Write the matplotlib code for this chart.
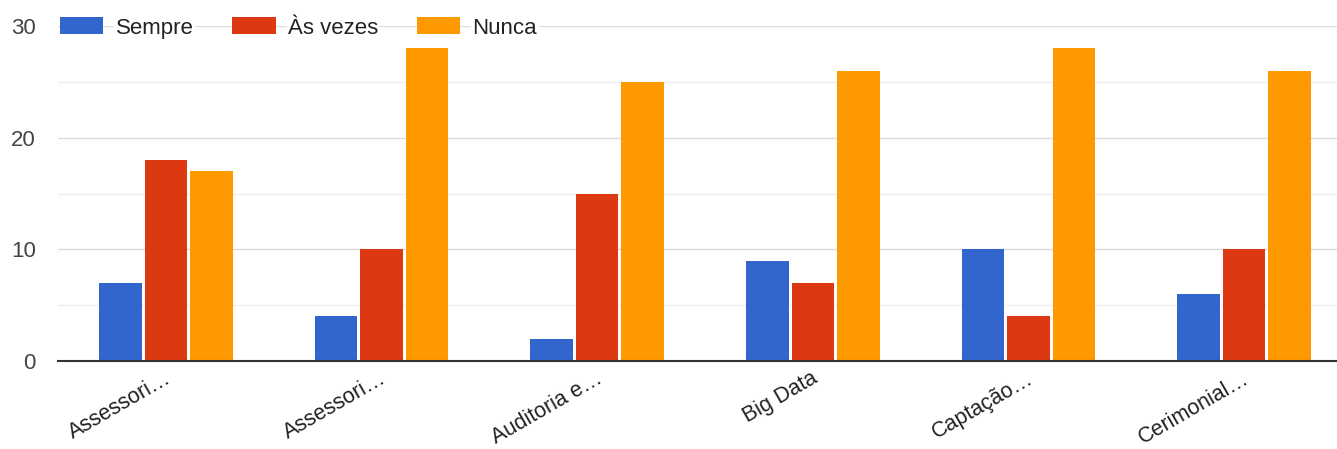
import matplotlib
matplotlib.use("Agg")
import matplotlib.pyplot as plt
import numpy as np

categories = ["Assessori…", "Assessori…", "Auditoria e…", "Big Data", "Captação…", "Cerimonial…"]
series_names = ["Sempre", "Às vezes", "Nunca"]
sempre = [7, 4, 2, 9, 10, 6]
as_vezes = [18, 10, 15, 7, 4, 10]
nunca = [17, 28, 25, 26, 28, 26]
colors = ["#3366cc", "#dc3912", "#ff9900"]

plt.rcParams['font.family'] = ['Liberation Sans', 'DejaVu Sans']

fig = plt.figure(figsize=(13.37, 4.49), dpi=100)
ax = fig.add_axes([58/1337, 1-361/449, (1352-58)/1337, (361-26)/449])

x = np.arange(len(categories))
w = 0.197
step = 0.211
for i, (vals, name) in enumerate(zip([sempre, as_vezes, nunca], series_names)):
    ax.bar(x + (i-1)*step, vals, width=w, color=colors[i], label=name, zorder=3)

ax.set_xlim(-0.5, len(categories)-0.5)
ax.set_ylim(0, 30)
ax.set_yticks([0, 10, 20, 30])
ax.set_yticks([5, 15, 25], minor=True)
ax.grid(axis='y', which='major', color='#dcdcdc', linewidth=1, zorder=0)
ax.grid(axis='y', which='minor', color='#efefef', linewidth=1, zorder=0)
ax.tick_params(axis='y', which='both', length=0, labelsize=16, labelcolor='#444444', pad=16)

ax.set_xticks(x - 0.01)
ax.set_xticklabels(categories, rotation=30, ha='right', rotation_mode='anchor',
                   fontsize=15.5, color='#222222')
ax.tick_params(axis='x', length=0, pad=5)

for s in ['top', 'right', 'left']:
    ax.spines[s].set_visible(False)
ax.spines['bottom'].set_color('#333333')
ax.spines['bottom'].set_linewidth(1.5)
ax.spines['bottom'].set_zorder(4)

leg = fig.legend(loc='center left', bbox_to_anchor=(60/1337, 1-28/449), ncol=3, frameon=False,
                 fontsize=16, handlelength=1.95, handleheight=0.8, columnspacing=1.75,
                 handletextpad=0.55, borderaxespad=0, borderpad=0)
for t in leg.get_texts():
    t.set_color('#222222')
for t in leg.get_texts():
    t.set_bbox(dict(facecolor='white', edgecolor='none', pad=1))

fig.savefig("out.png", dpi=100)
